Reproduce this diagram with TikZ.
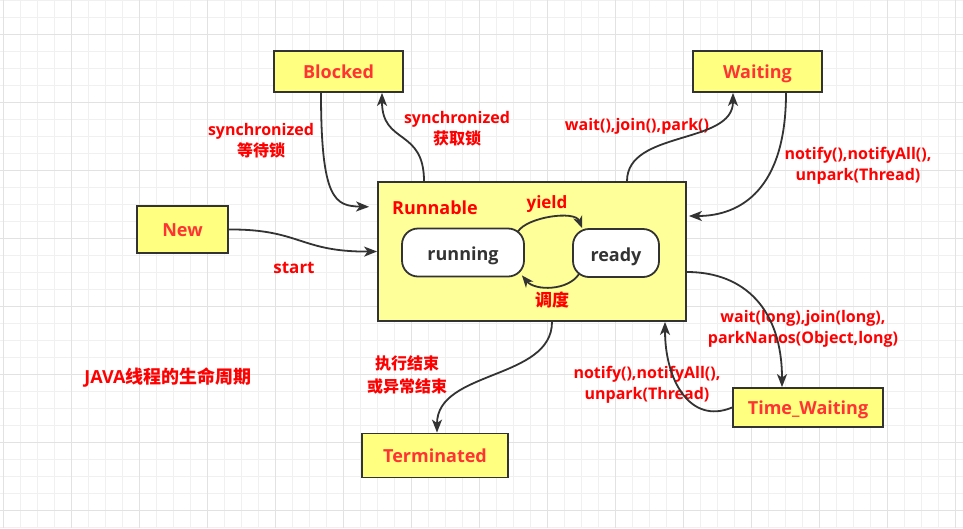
\documentclass[tikz,border=0pt]{standalone}
\usepackage{fontspec}
\setmainfont{Open Sans}
\newfontfamily\cjk{Noto Sans CJK SC Bold}
\usetikzlibrary{arrows.meta,calc}
\definecolor{boxfill}{HTML}{FFFF80}
\definecolor{runfill}{HTML}{FFFF99}
\definecolor{edgec}{HTML}{333333}
\definecolor{boxtxt}{HTML}{FF3333}
\definecolor{lbl}{HTML}{FF0000}
\definecolor{gridminor}{HTML}{F0F0F0}
\definecolor{gridmajor}{HTML}{E2E2E2}
\begin{document}
\begin{tikzpicture}[x=1pt,y=-1pt,
  statebox/.style={draw=edgec, line width=1.8pt, fill=boxfill, inner sep=0pt,
    text height=14.5pt, text depth=0pt,
    text=boxtxt, font=\fontsize{18}{22}\selectfont\bfseries},
  runbox/.style={draw=edgec, line width=1.8pt, fill=runfill, inner sep=0pt},
  subbox/.style={draw=edgec, line width=1.8pt, fill=white, rounded corners=16pt,
    inner sep=0pt, text height=16pt, text depth=0pt,
    text=edgec, font=\fontsize{18}{22}\selectfont\bfseries},
  lab/.style={text=lbl, align=center, inner sep=0pt,
    font=\fontsize{16}{21}\selectfont\bfseries},
  biglab/.style={text=lbl, align=center, inner sep=0pt,
    font=\fontsize{18}{22}\selectfont\bfseries},
  arr/.style={draw=edgec, line width=1.8pt,
    -{Stealth[length=13pt,width=10pt,inset=3.5pt]}},
  minorline/.style={draw=gridminor, line width=0.9pt},
  majorline/.style={draw=gridmajor, line width=0.9pt}
]
\useasboundingbox (0,0) rectangle (963,528);
\fill[white] (0,0) rectangle (963,528);
% grid
\foreach \k in {0,...,56} { \draw[minorline] ({3.3+17*\k},0) -- ({3.3+17*\k},528); }
\foreach \k in {0,...,31} { \draw[minorline] (0,{0.7+17*\k}) -- (963,{0.7+17*\k}); }
\foreach \k in {0,4,...,56} { \draw[majorline] ({3.3+17*\k},0) -- ({3.3+17*\k},528); }
\foreach \k in {2,6,...,30} { \draw[majorline] (0,{0.7+17*\k}) -- (963,{0.7+17*\k}); }

% nodes
\node[statebox, minimum width=129pt, minimum height=41pt] (Blocked) at (338.5,71.5) {Blocked};
\node[statebox, minimum width=129pt, minimum height=41pt] (Waiting) at (757.5,71.5) {Waiting};
\node[statebox, minimum width=91pt, minimum height=47pt] (New) at (182.5,229.5) {New};
\node[runbox, minimum width=308pt, minimum height=139pt] (Run) at (532,251.5) {};
\node[subbox, minimum width=122pt, minimum height=48pt] (running) at (463,252.5) {running};
\node[subbox, minimum width=86pt, minimum height=48pt] (ready) at (616,253) {ready};
\node[statebox, minimum width=150pt, minimum height=39pt] (TW) at (808,407.5) {Time\_Waiting};
\node[statebox, minimum width=146pt, minimum height=44pt] (Term) at (435,455.5) {Terminated};

% labels
\node[biglab] (runlab) at (435,208) {Runnable};
\node[lab] (l1) at (261,140.5) {synchronized\\{\cjk 等待锁}};
\node[lab] (l2) at (457,128.5) {synchronized\\{\cjk 获取锁}};
\node[lab] (l3) at (637,126) {wait(),join(),park()};
\node[lab] (l4) at (858,165.5) {notify(),notifyAll(),\\unpark(Thread)};
\node[lab, font=\fontsize{17}{21}\selectfont\bfseries] (l5) at (547,204) {yield};
\node[lab, font=\fontsize{17}{21}\selectfont\bfseries] (l6) at (552,300) {\cjk 调度};
\node[lab, font=\fontsize{17}{21}\selectfont\bfseries] (l7) at (294,268) {start};
\node[biglab] (title) at (168,378) {JAVA{\cjk 线程的生命周期}};
\node[lab, font=\fontsize{16}{23}\selectfont\bfseries] (l8) at (407,374.5) {{\cjk 执行结束}\\{\cjk 或异常结束}};
\node[lab] (l9) at (803,328.5) {wait(long),join(long),\\parkNanos(Object,long)};
\node[lab] (l10) at (647,384.5) {notify(),notifyAll(),\\unpark(Thread)};

% connectors
\draw[arr, shorten >=8pt] ($(Blocked.south)+(-17.5,0)$) .. controls (321,200) and (335,206) .. ($(Run.west)+(0,-44.5)$);
\draw[arr] ($(Run.north)+(-108,0)$) .. controls (424,128) and (382,145) .. ($(Blocked.south)+(43.5,0)$);
\draw[arr] (New.east) .. controls (300,229) and (300,252) .. (Run.west);
\draw[arr] ($(Run.north)+(95,0)$) .. controls (627,130) and (733,145) .. ($(Waiting.south)+(-24.5,0)$);
\draw[arr, shorten >=2pt] ($(Waiting.south)+(28.5,0)$) .. controls (786,190) and (740,216) .. ($(Run.east)+(0,-35.5)$);
\draw[arr] ($(Run.east)+(0,20.5)$) .. controls (745,272) and (782,310) .. ($(TW.north)+(-26,0)$);
\draw[arr] (TW.west) .. controls (690,425) and (665,380) .. ($(Run.south)+(133,0)$);
\draw[arr] ($(Run.south)+(20,0)$) .. controls (552,380) and (437,370) .. ($(Term.north)+(2,0)$);
\draw[arr, -{Stealth[length=12pt,width=9.5pt,inset=3.5pt]}] ($(running.north east)+(-7,4)$) .. controls (527,217) and (575,210) .. ($(ready.north west)+(10,0)$);
\draw[arr, -{Stealth[length=12pt,width=9.5pt,inset=3.5pt]}] ($(ready.south west)+(7,-4)$) .. controls (568,291) and (535,291) .. ($(running.south east)+(-3,-2)$);
\end{tikzpicture}
\end{document}
